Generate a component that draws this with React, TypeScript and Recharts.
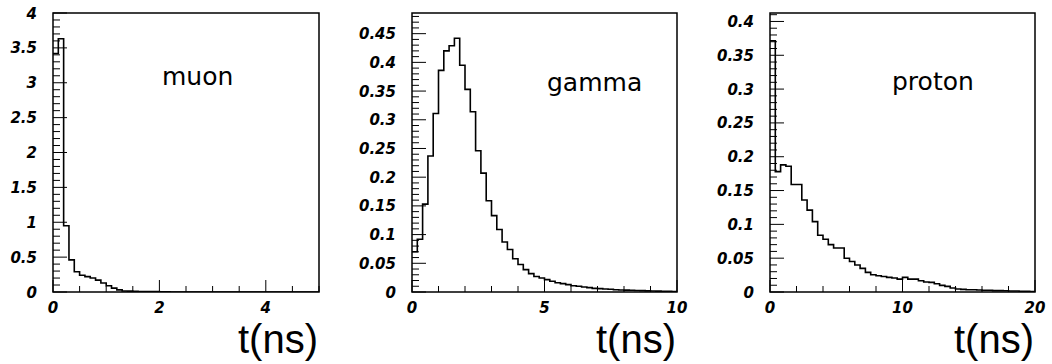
import { LineChart, Line, XAxis, YAxis, ReferenceArea } from 'recharts';

// bin contents (50 bins per histogram)
const muonCounts = [
  3.42, 3.63, 0.95, 0.46, 0.29, 0.24, 0.22, 0.2, 0.17, 0.13,
  0.09, 0.055, 0.03, 0.015, 0.012, 0.01, 0.008, 0.007, 0.006, 0.005,
  0.004, 0.003, 0, 0, 0, 0, 0, 0, 0, 0,
  0, 0, 0, 0, 0, 0, 0, 0, 0, 0,
  0, 0, 0, 0, 0, 0, 0, 0, 0, 0,
];
const gammaCounts = [
  0.07, 0.092, 0.153, 0.237, 0.311, 0.386, 0.42, 0.429, 0.442, 0.395,
  0.353, 0.314, 0.246, 0.207, 0.159, 0.133, 0.109, 0.087, 0.074, 0.058,
  0.048, 0.039, 0.032, 0.027, 0.0245, 0.0216, 0.0187, 0.016, 0.0146, 0.0128,
  0.011, 0.0099, 0.0088, 0.0076, 0.0064, 0.0058, 0.0053, 0.0047, 0.004, 0.0035,
  0.0033, 0.003, 0.0027, 0.0024, 0.002, 0.0018, 0.0016, 0.0014, 0.0012, 0.001,
];
const protonCounts = [
  0.3715, 0.178, 0.188, 0.186, 0.159, 0.159, 0.136, 0.121, 0.104, 0.084,
  0.078, 0.07, 0.065, 0.065, 0.05, 0.045, 0.04, 0.035, 0.029, 0.0255,
  0.024, 0.023, 0.0216, 0.0206, 0.019, 0.0216, 0.019, 0.019, 0.0167, 0.0147,
  0.0142, 0.0123, 0.0098, 0.0083, 0.0059, 0.0044, 0.0039, 0.0034, 0.0034, 0.003,
  0.0025, 0.0025, 0.002, 0.002, 0.0018, 0.0015, 0.0015, 0.0012, 0.001, 0.0005,
];

// labelled tick values
const muonXLabels = [0, 2, 4];
const muonYLabels = [0, 0.5, 1, 1.5, 2, 2.5, 3, 3.5, 4];
const gammaXLabels = [0, 5, 10];
const gammaYLabels = [0, 0.05, 0.1, 0.15, 0.2, 0.25, 0.3, 0.35, 0.4, 0.45];
const protonXLabels = [0, 10, 20];
const protonYLabels = [0, 0.05, 0.1, 0.15, 0.2, 0.25, 0.3, 0.35, 0.4];

const round = (v: number) => Math.round(v * 10000) / 10000;

const toSteps = (counts: number[], binWidth: number) => {
  const pts = counts.map((v, i) => ({ t: round(i * binWidth), v }));
  pts.push({ t: round(counts.length * binWidth), v: counts[counts.length - 1] });
  return pts;
};

const range = (max: number, step: number) => {
  const out: number[] = [];
  for (let i = 0; i * step <= max + 1e-9; i++) out.push(round(i * step));
  return out;
};

const isIn = (list: number[], v: number) => list.some((m) => Math.abs(m - v) < 1e-9);

const tickFont: React.CSSProperties = {
  fontFamily: '"DejaVu Sans", sans-serif',
  fontWeight: 700,
  fontStyle: 'oblique',
  fontSize: '15px',
  fill: '#000',
};

const YTick = ({ x, y, payload, labels }: any) => {
  const major = isIn(labels, payload.value);
  return (
    <g>
      <line x1={x} y1={y} x2={x + (major ? 14 : 7)} y2={y} stroke="#000" strokeWidth={1} />
      {major && (
        <text x={x - 16} y={y + 5.5} textAnchor="end" style={tickFont}>
          {String(payload.value)}
        </text>
      )}
    </g>
  );
};

const XTick = ({ x, y, payload, labels }: any) => {
  const major = isIn(labels, payload.value);
  return (
    <g>
      <line x1={x} y1={y} x2={x} y2={y - (major ? 12 : 6)} stroke="#000" strokeWidth={1} />
      {major && (
        <text x={x} y={y + 21} textAnchor="middle" style={tickFont}>
          {String(payload.value)}
        </text>
      )}
    </g>
  );
};

interface PanelProps {
  left: number;
  width: number;
  margin: { top: number; right: number; bottom: number; left: number };
  yAxisWidth: number;
  counts: number[];
  binWidth: number;
  yMax: number;
  xLabels: number[];
  xMinor: number;
  yLabels: number[];
  yMinor: number;
}

function Panel(p: PanelProps) {
  const data = toSteps(p.counts, p.binWidth);
  const xMax = round(p.counts.length * p.binWidth);
  return (
    <div style={{ position: 'absolute', left: p.left, top: 0 }}>
      <LineChart width={p.width} height={364} data={data} margin={p.margin}>
        <XAxis
          dataKey="t"
          type="number"
          domain={[0, xMax]}
          ticks={range(xMax, p.xMinor)}
          interval={0}
          axisLine={false}
          tickLine={false}
          tickSize={0}
          tickMargin={0}
          height={30}
          allowDataOverflow
          tick={(props: any) => <XTick {...props} labels={p.xLabels} />}
        />
        <YAxis
          type="number"
          domain={[0, p.yMax]}
          ticks={range(p.yMax, p.yMinor)}
          interval={0}
          axisLine={false}
          tickLine={false}
          tickSize={0}
          tickMargin={0}
          width={p.yAxisWidth}
          allowDataOverflow
          tick={(props: any) => <YTick {...props} labels={p.yLabels} />}
        />
        <ReferenceArea x1={0} x2={xMax} y1={0} y2={p.yMax} fill="none" fillOpacity={0} stroke="#000" strokeWidth={1.5} />
        <Line
          dataKey="v"
          type="stepAfter"
          stroke="#000"
          strokeWidth={1.6}
          dot={false}
          activeDot={false}
          isAnimationActive={false}
        />
      </LineChart>
    </div>
  );
}

const nameFont: React.CSSProperties = { fontFamily: '"DejaVu Sans", sans-serif', fontSize: '25px', fontWeight: 400, fill: '#000' };
const axisTitleFont: React.CSSProperties = { fontFamily: '"Liberation Sans", Arial, sans-serif', fontSize: '40px', fill: '#000' };

export default function App() {
  return (
    <div style={{ position: 'absolute', left: 0, top: 0, width: 1052, height: 364, background: '#fff' }}>
      <Panel
        left={0}
        width={340}
        margin={{ top: 13, right: 21, bottom: 42, left: 8 }}
        yAxisWidth={45}
        counts={muonCounts}
        binWidth={0.1}
        yMax={4}
        xLabels={muonXLabels}
        xMinor={0.5}
        yLabels={muonYLabels}
        yMinor={0.1}
      />
      <Panel
        left={340}
        width={350}
        margin={{ top: 13, right: 13, bottom: 42, left: 12 }}
        yAxisWidth={60}
        counts={gammaCounts}
        binWidth={0.2}
        yMax={0.486}
        xLabels={gammaXLabels}
        xMinor={1}
        yLabels={gammaYLabels}
        yMinor={0.01}
      />
      <Panel
        left={690}
        width={362}
        margin={{ top: 13, right: 17, bottom: 42, left: 20 }}
        yAxisWidth={60}
        counts={protonCounts}
        binWidth={0.4}
        yMax={0.4125}
        xLabels={protonXLabels}
        xMinor={2}
        yLabels={protonYLabels}
        yMinor={0.01}
      />
      <svg width={1052} height={364} style={{ position: 'absolute', left: 0, top: 0, pointerEvents: 'none' }}>
        <text x={162} y={85} style={nameFont}>muon</text>
        <text x={547} y={91} style={nameFont}>gamma</text>
        <text x={892} y={90} style={nameFont}>proton</text>
        <text x={318} y={353} textAnchor="end" style={axisTitleFont}>t(ns)</text>
        <text x={676} y={353} textAnchor="end" style={axisTitleFont}>t(ns)</text>
        <text x={1034} y={353} textAnchor="end" style={axisTitleFont}>t(ns)</text>
      </svg>
    </div>
  );
}
